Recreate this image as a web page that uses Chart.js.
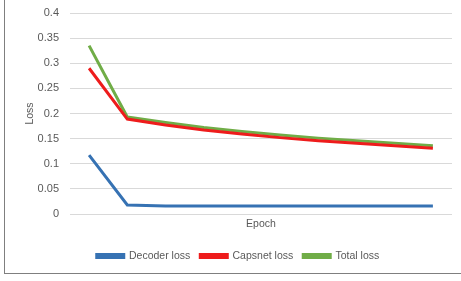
<!DOCTYPE html>
<html>
<head>
<meta charset="utf-8">
<script src="https://cdn.jsdelivr.net/npm/chart.js@4/dist/chart.umd.min.js"></script>
<style>
html,body{margin:0;padding:0;background:#fff;}
#wrap{position:relative;width:461px;height:281px;overflow:hidden;}
#frame{position:absolute;left:4px;top:-2px;width:480px;height:276px;border:1px solid #7f7f7f;box-sizing:border-box;}
#c{position:absolute;left:0;top:0;}
</style>
</head>
<body>
<div id="wrap">
<div id="frame"></div>
<canvas id="c" width="461" height="281"></canvas>
</div>
<script>
const epochs = [1, 2, 3, 4, 5, 6, 7, 8, 9, 10];
const decoderLoss = [0.117, 0.018, 0.016, 0.016, 0.016, 0.016, 0.016, 0.016, 0.016, 0.016];
const capsnetLoss = [0.290, 0.189, 0.177, 0.167, 0.159, 0.152, 0.146, 0.141, 0.136, 0.131];
const totalLoss   = [0.335, 0.193, 0.182, 0.172, 0.164, 0.157, 0.151, 0.146, 0.141, 0.136];
const seriesNames = ['Decoder loss', 'Capsnet loss', 'Total loss'];
const yTicks = [0, 0.05, 0.1, 0.15, 0.2, 0.25, 0.3, 0.35, 0.4];

const FONT = "'Liberation Sans', Arial, sans-serif";
const TXT = '#595959';

new Chart(document.getElementById('c'), {
  type: 'line',
  data: {
    labels: epochs,
    datasets: [
      {label: seriesNames[0], data: decoderLoss, borderColor: '#3672b3', backgroundColor: '#3672b3'},
      {label: seriesNames[1], data: capsnetLoss, borderColor: '#ee1c1c', backgroundColor: '#ee1c1c'},
      {label: seriesNames[2], data: totalLoss, borderColor: '#70ad47', backgroundColor: '#70ad47'}
    ].map(d => Object.assign(d, {borderWidth: 3, pointRadius: 0, tension: 0, fill: false}))
  },
  options: {
    responsive: false,
    animation: false,
    layout: {padding: {left: 24, right: 9, top: 13, bottom: 9.75}},
    plugins: {
      tooltip: {enabled: false},
      legend: {
        position: 'bottom',
        labels: {
          boxWidth: 27, boxHeight: 3, padding: 10,
          color: TXT, font: {family: FONT, size: 10.5}
        }
      }
    },
    scales: {
      x: {
        offset: true,
        grid: {display: false, drawTicks: false},
        border: {display: false},
        ticks: {display: false},
        title: {display: true, text: 'Epoch', color: TXT, font: {family: FONT, size: 10.5}, padding: {top: 0, bottom: 10.5}},
        afterFit: s => { s.height = 26.75; }
      },
      y: {
        min: 0, max: 0.4,
        afterBuildTicks: s => { s.ticks = yTicks.map(v => ({value: v})); },
        grid: {color: '#d9d9d9', lineWidth: 1, drawTicks: true, tickLength: 8, tickColor: 'rgba(0,0,0,0)'},
        border: {display: false},
        ticks: {
          color: TXT, font: {family: FONT, size: 11}, padding: 3,
          callback: v => String(+Number(v).toFixed(2))
        },
        title: {display: true, text: 'Loss', color: TXT, font: {family: FONT, size: 10.5}, padding: {top: 0, bottom: 0}},
        afterFit: s => { s.width = 46; }
      }
    }
  }
});
</script>
</body>
</html>
